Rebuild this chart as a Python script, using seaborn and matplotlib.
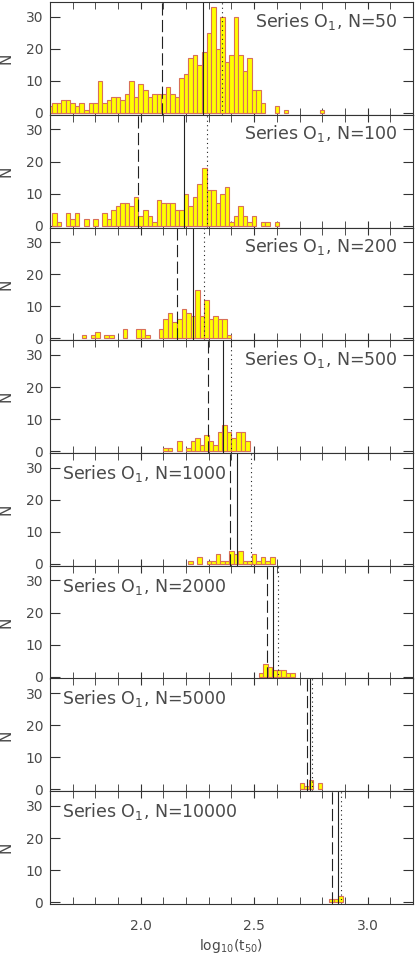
import numpy as np
import pandas as pd
import matplotlib
matplotlib.use("Agg")
import matplotlib.pyplot as plt
import seaborn as sns

# histogram counts per panel (bin width 0.02 in log10 t50)
n_values = [50, 100, 200, 500, 1000, 2000, 5000, 10000]
bin_start = [1.59, 1.61, 1.74, 2.10, 2.21, 2.52, 2.70, 2.83]
counts_n50 = [2, 3, 3, 4, 4, 3, 2, 3, 1, 3,
              3, 10, 3, 4, 5, 5, 4, 6, 10, 5,
              9, 7, 5, 6, 6, 6, 8, 6, 5, 11,
              12, 17, 18, 15, 19, 25, 33, 20, 30, 16,
              18, 30, 18, 13, 17, 7, 7, 3, 0, 0,
              2, 0, 1, 0, 0, 0, 0, 0, 0, 0, 1]
counts_n100 = [4, 1, 0, 4, 2, 4, 0, 2, 0, 2,
               0, 4, 2, 5, 6, 7, 7, 6, 9, 3,
               5, 3, 1, 8, 7, 7, 7, 5, 5, 10,
               6, 9, 13, 18, 11, 11, 7, 10, 12, 1,
               3, 6, 3, 1, 3, 0, 1, 1, 0, 1]
counts_n200 = [1, 0, 1, 2, 0, 1, 1, 0, 0, 3,
               0, 0, 3, 3, 1, 0, 0, 3, 6, 8,
               5, 6, 9, 8, 7, 15, 7, 12, 6, 7,
               6, 6, 1]
counts_n500 = [1, 1, 0, 3, 0, 1, 3, 4, 2, 5, 3, 2, 6, 8, 6, 4, 6, 6, 3]
counts_n1000 = [1, 0, 2, 0, 1, 1, 3, 1, 1, 4, 3, 4, 1, 1, 3, 1, 2, 1, 2]
counts_n2000 = [1, 4, 3, 2, 2, 2, 1, 1]
counts_n5000 = [2, 1, 3, 0, 2]
counts_n10000 = [1, 1, 2]
all_counts = [counts_n50, counts_n100, counts_n200, counts_n500,
              counts_n1000, counts_n2000, counts_n5000, counts_n10000]

# reference lines per panel
dashed_pos = [2.093, 1.986, 2.158, 2.296, 2.392, 2.556, 2.733, 2.843]
solid_pos = [2.274, 2.190, 2.231, 2.361, 2.423, 2.581, 2.748, 2.869]
dotted_pos = [2.360, 2.293, 2.278, 2.396, 2.485, 2.606, 2.754, 2.883]

sns.set_style("ticks")
plt.rcParams['font.family'] = ['DejaVu Sans']
plt.rcParams['mathtext.fontset'] = 'dejavusans'

txt_col = '#4a4a4a'
fig, axes = plt.subplots(8, 1, figsize=(4.15, 9.55), dpi=100, sharex=True)
fig.subplots_adjust(left=0.1205, right=0.995, top=1 - 2 / 955, bottom=1 - 904 / 955, hspace=0)

for i, ax in enumerate(axes):
    counts = all_counts[i]
    lo = bin_start[i]
    hi = lo + 0.02 * len(counts)
    df = pd.DataFrame({'x': [lo + 0.01 + 0.02 * k for k in range(len(counts))],
                       'w': counts})
    sns.histplot(data=df, x='x', weights='w', binwidth=0.02, binrange=(lo, hi), ax=ax,
                 color='#ffff00', edgecolor='#d8705a', linewidth=0.8, alpha=1)
    for p in ax.patches:
        if p.get_height() == 0:
            p.set_visible(False)

    ax.axvline(dashed_pos[i], color='#222222', lw=0.8, ls=(0, (11, 4)))
    ax.axvline(solid_pos[i], color='#222222', lw=0.8, ls='-')
    ax.axvline(dotted_pos[i], color='#222222', lw=0.8, ls=(0, (1, 3)))

    ax.set_xlim(1.6, 3.2)
    ax.set_ylim(-0.6, 34.6)
    ax.set_yticks([0, 10, 20, 30])
    ax.set_xticks([2.0, 2.5, 3.0])
    ax.set_xticks(np.arange(1.7, 3.2, 0.1), minor=True)
    ax.tick_params(axis='both', which='both', direction='in', top=True, right=True,
                   colors='#333333', labelcolor=txt_col, labelsize=10)
    ax.tick_params(axis='y', length=7, pad=5)
    ax.tick_params(axis='x', which='major', length=5, pad=11)
    ax.tick_params(axis='x', which='minor', length=5)
    for s in ax.spines.values():
        s.set_color('#333333')
        s.set_linewidth(0.8)

    ax.set_ylabel('N', color=txt_col, fontsize=11)
    ax.yaxis.set_label_coords(-0.10, 0.5)
    ax.set_xlabel('')

    label = f'Series O$_1$, N={n_values[i]}'
    if n_values[i] < 1000:
        ax.text(0.959, 0.83, label, transform=ax.transAxes, ha='right', va='center',
                fontsize=12.5, color=txt_col)
    else:
        ax.text(0.032, 0.82, label, transform=ax.transAxes, ha='left', va='center',
                fontsize=12.5, color=txt_col)

axes[-1].set_xlabel('log$_{10}$(t$_{50}$)', color=txt_col, fontsize=10, labelpad=3)

fig.savefig('out.png', dpi=100)
